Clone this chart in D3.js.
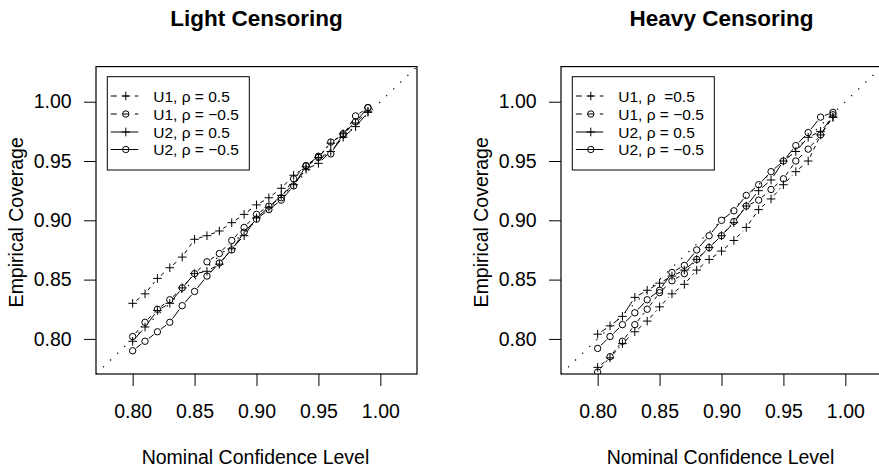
<!DOCTYPE html>
<html>
<head>
<meta charset="utf-8">
<script src="https://cdn.jsdelivr.net/npm/d3@7"></script>
<style>
  html, body { margin: 0; padding: 0; background: #fff; }
  svg { display: block; }
  text { font-family: "Liberation Sans", Arial, Helvetica, sans-serif; fill: #000; }
</style>
</head>
<body>
<svg id="chart" width="879" height="469"></svg>
<script>
// ---------------- data ----------------
const nominal = [0.80, 0.81, 0.82, 0.83, 0.84, 0.85, 0.86, 0.87, 0.88, 0.89,
                 0.90, 0.91, 0.92, 0.93, 0.94, 0.95, 0.96, 0.97, 0.98, 0.99];

// Light censoring
const lightU1pos = [0.830, 0.838, 0.851, 0.860, 0.869, 0.884, 0.887, 0.891, 0.898, 0.905,
                    0.913, 0.919, 0.927, 0.938, 0.945, 0.953, 0.965, 0.973, 0.982, 0.992];
const lightU1neg = [0.802, 0.814, 0.825, 0.833, 0.843, 0.855, 0.865, 0.872, 0.883, 0.894,
                    0.905, 0.912, 0.919, 0.935, 0.946, 0.953, 0.966, 0.972, 0.988, 0.995];
const lightU2pos = [0.798, 0.810, 0.824, 0.830, 0.843, 0.855, 0.857, 0.863, 0.876, 0.887,
                    0.902, 0.911, 0.921, 0.930, 0.943, 0.948, 0.958, 0.970, 0.979, 0.991];
const lightU2neg = [0.790, 0.798, 0.806, 0.814, 0.828, 0.840, 0.853, 0.864, 0.875, 0.890,
                    0.901, 0.909, 0.917, 0.929, 0.946, 0.954, 0.956, 0.973, 0.983, 0.995];

// Heavy censoring
const heavyU1pos = [0.776, 0.784, 0.796, 0.806, 0.815, 0.827, 0.838, 0.846, 0.858, 0.867,
                    0.874, 0.883, 0.894, 0.909, 0.918, 0.930, 0.941, 0.950, 0.972, 0.987];
const heavyU1neg = [0.772, 0.785, 0.798, 0.812, 0.825, 0.839, 0.849, 0.855, 0.867, 0.877,
                    0.887, 0.899, 0.912, 0.917, 0.926, 0.935, 0.950, 0.960, 0.972, 0.989];
const heavyU2pos = [0.804, 0.811, 0.819, 0.835, 0.841, 0.847, 0.853, 0.858, 0.867, 0.877,
                    0.887, 0.898, 0.912, 0.925, 0.934, 0.950, 0.958, 0.970, 0.975, 0.987];
const heavyU2neg = [0.792, 0.802, 0.812, 0.822, 0.833, 0.841, 0.856, 0.862, 0.875, 0.887,
                    0.900, 0.908, 0.921, 0.930, 0.941, 0.950, 0.963, 0.974, 0.987, 0.991];

const xTicks = [0.80, 0.85, 0.90, 0.95, 1.00];
const yTicks = [0.80, 0.85, 0.90, 0.95, 1.00];
const axisLimits = [0.78, 1.02];

const panelTitles = ["Light Censoring", "Heavy Censoring"];
const xAxisTitle = "Nominal Confidence Level";
const yAxisTitle = "Empirical Coverage";
const legendLight = ["U1, \u03C1 = 0.5", "U1, \u03C1 = \u22120.5", "U2, \u03C1 = 0.5", "U2, \u03C1 = \u22120.5"];
const legendHeavy = ["U1, \u03C1  =0.5", "U1, \u03C1 = \u22120.5", "U2, \u03C1 = 0.5", "U2, \u03C1 = \u22120.5"];

// series styles: dashed/solid, plus/circle
const seriesStyle = [
  { dashed: true,  pch: "plus"   },
  { dashed: true,  pch: "circle" },
  { dashed: false, pch: "plus"   },
  { dashed: false, pch: "circle" }
];

const panels = [
  { title: panelTitles[0], series: [lightU1pos, lightU1neg, lightU2pos, lightU2neg], legend: legendLight, left: 96 },
  { title: panelTitles[1], series: [heavyU1pos, heavyU1neg, heavyU2pos, heavyU2neg], legend: legendHeavy, left: 561 }
];

// ---------------- drawing ----------------
const svg = d3.select("#chart");
const boxW = 321, boxTop = 66.6, boxBottom = 374;
const ext = (axisLimits[1] - axisLimits[0]) * 0.04;
const dom = [axisLimits[0] - ext, axisLimits[1] + ext];
const FS = 19.5;
const GAP = 4.6;
const DASH = "4,4";

function drawMarker(g, type, cx, cy) {
  if (type === "plus") {
    const a = 4.3;
    g.append("line").attr("x1", cx - a).attr("x2", cx + a).attr("y1", cy).attr("y2", cy)
      .attr("stroke", "#000").attr("stroke-width", 1);
    g.append("line").attr("x1", cx).attr("x2", cx).attr("y1", cy - a).attr("y2", cy + a)
      .attr("stroke", "#000").attr("stroke-width", 1);
  } else {
    g.append("circle").attr("cx", cx).attr("cy", cy).attr("r", 3.2)
      .attr("fill", "none").attr("stroke", "#000").attr("stroke-width", 1);
  }
}

panels.forEach((p, pi) => {
  const x = d3.scaleLinear().domain(dom).range([p.left, p.left + boxW]);
  const y = d3.scaleLinear().domain(dom).range([boxBottom, boxTop]);
  const g = svg.append("g");

  // clip
  const clipId = "clip" + pi;
  svg.append("clipPath").attr("id", clipId).append("rect")
    .attr("x", p.left).attr("y", boxTop).attr("width", boxW).attr("height", boxBottom - boxTop);

  // title
  g.append("text").attr("x", p.left + boxW / 2).attr("y", 26)
    .attr("text-anchor", "middle").attr("font-weight", "bold").attr("font-size", 22.5)
    .text(p.title);

  // axes (R style) via d3 axes
  const xAxis = d3.axisBottom(x).tickValues(xTicks).tickFormat(d3.format(".2f")).tickSize(12).tickPadding(6);
  const yAxis = d3.axisLeft(y).tickValues(yTicks).tickFormat(d3.format(".2f")).tickSize(12).tickPadding(12.3);
  const gx = g.append("g").attr("transform", `translate(0,${boxBottom})`).call(xAxis);
  const gy = g.append("g").attr("transform", `translate(${p.left},0)`).call(yAxis);
  [gx, gy].forEach(a => {
    a.select(".domain").remove();
    a.selectAll("line").attr("stroke", "#000").attr("stroke-width", 1);
    a.selectAll("text").attr("font-size", FS).attr("font-family", "Liberation Sans, Arial, sans-serif").attr("fill", "#000");
  });
  gx.selectAll("text").attr("y", 44.3).attr("dy", 0);

  // axis titles
  g.append("text").attr("x", p.left + boxW / 2 - 1).attr("y", 464)
    .attr("text-anchor", "middle").attr("font-size", FS).text(xAxisTitle);
  g.append("text").attr("transform", `translate(${p.left - 73},${(boxTop + boxBottom) / 2 + 2}) rotate(-90)`)
    .attr("text-anchor", "middle").attr("font-size", FS).text(yAxisTitle);

  // plot contents clipped
  const pg = g.append("g").attr("clip-path", `url(#${clipId})`);

  // reference diagonal
  pg.append("line")
    .attr("x1", x(dom[0])).attr("y1", y(dom[0])).attr("x2", x(dom[1])).attr("y2", y(dom[1]))
    .attr("stroke", "#000").attr("stroke-width", 1.2).attr("stroke-dasharray", "1.3,8.5");

  // series (type = "b")
  p.series.forEach((vals, si) => {
    const st = seriesStyle[si];
    const sg = pg.append("g");
    for (let i = 0; i < vals.length - 1; i++) {
      const x0 = x(nominal[i]), y0 = y(vals[i]);
      const x1 = x(nominal[i + 1]), y1 = y(vals[i + 1]);
      const dx = x1 - x0, dy = y1 - y0;
      const L = Math.hypot(dx, dy);
      if (L <= 2 * GAP) continue;
      const ux = dx / L, uy = dy / L;
      const ln = sg.append("line")
        .attr("x1", x0 + ux * GAP).attr("y1", y0 + uy * GAP)
        .attr("x2", x1 - ux * GAP).attr("y2", y1 - uy * GAP)
        .attr("stroke", "#000").attr("stroke-width", 1);
      if (st.dashed) ln.attr("stroke-dasharray", DASH);
    }
    vals.forEach((v, i) => drawMarker(sg, st.pch, x(nominal[i]), y(v)));
  });

  // box
  g.append("rect").attr("x", p.left).attr("y", boxTop).attr("width", boxW).attr("height", boxBottom - boxTop)
    .attr("fill", "none").attr("stroke", "#000").attr("stroke-width", 1.2);

  // legend
  const lx = p.left + 11.3, ly = 76.7;
  const lg = g.append("g");
  lg.append("rect").attr("x", lx).attr("y", ly).attr("width", 142).attr("height", 93.3)
    .attr("fill", "#fff").attr("stroke", "#000").attr("stroke-width", 1);
  const rowY = [96, 114, 132, 149.5];
  p.legend.forEach((lab, i) => {
    const st = seriesStyle[i];
    const cy = rowY[i];
    const seg = lg.append("line").attr("x1", lx + 3.5).attr("x2", lx + 31).attr("y1", cy).attr("y2", cy)
      .attr("stroke", "#000").attr("stroke-width", 1);
    if (st.dashed) seg.attr("stroke-dasharray", "6,6");
    drawMarker(lg, st.pch, lx + 18.5, cy);
    lg.append("text").attr("x", lx + 46).attr("y", cy).attr("dy", "0.36em")
      .attr("font-size", 15.5).style("white-space", "pre").text(lab);
  });
});
</script>
</body>
</html>
